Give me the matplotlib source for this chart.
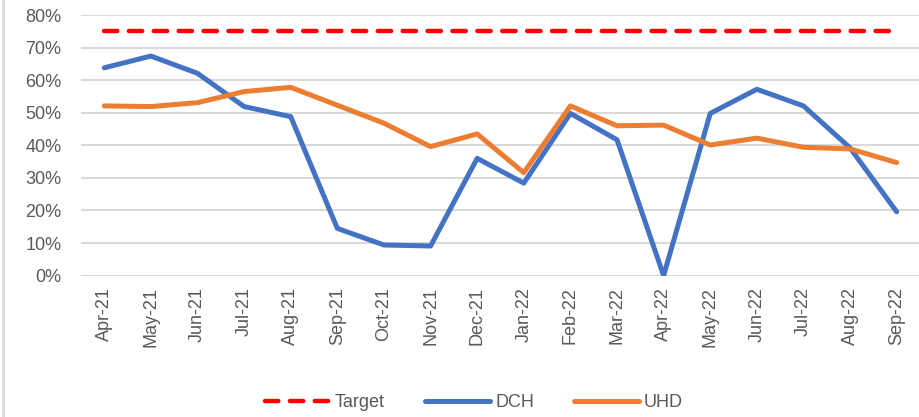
import numpy as np
import matplotlib
matplotlib.use("Agg")
import matplotlib.pyplot as plt
from matplotlib.lines import Line2D
from matplotlib.ticker import PercentFormatter

# Monthly values (percent)
months = ["Apr-21", "May-21", "Jun-21", "Jul-21", "Aug-21", "Sep-21",
          "Oct-21", "Nov-21", "Dec-21", "Jan-22", "Feb-22", "Mar-22",
          "Apr-22", "May-22", "Jun-22", "Jul-22", "Aug-22", "Sep-22"]
target = [75] * len(months)
dch = [63.8, 67.4, 62.1, 51.9, 48.8, 14.5, 9.4, 9.1, 36.0, 28.4,
       49.8, 41.7, 0.0, 49.8, 57.2, 52.1, 39.2, 19.6]
uhd = [52.1, 51.9, 53.1, 56.5, 57.8, 52.3, 46.8, 39.6, 43.5, 31.6,
       52.1, 46.0, 46.2, 40.1, 42.2, 39.4, 38.9, 34.7]

plt.rcParams['font.family'] = ['Liberation Sans', 'DejaVu Sans']

fig = plt.figure(figsize=(9.2, 4.17), dpi=100)
ax = fig.add_axes([0.088, 0.339, 0.912, 0.625])

x = np.arange(len(months))
ax.plot(x, target, color="#ff0000", lw=3.2, dashes=(3.0, 2.6),
        dash_capstyle="round", label="Target", zorder=3)
ax.plot(x, dch, color="#4472c4", lw=3.6, solid_joinstyle="round",
        solid_capstyle="round", label="DCH", zorder=4)
ax.plot(x, uhd, color="#ed7d31", lw=3.6, solid_joinstyle="round",
        solid_capstyle="round", label="UHD", zorder=4)

ax.set_xlim(-0.5, len(months) - 0.5)
ax.set_ylim(0, 80)
ax.set_yticks(np.arange(0, 81, 10))
ax.yaxis.set_major_formatter(PercentFormatter(decimals=0))
ax.set_xticks(x)
ax.set_xticklabels(months, rotation=90)
ax.tick_params(axis="both", length=0, labelsize=13, colors="#595959")
ax.tick_params(axis="y", pad=14)
ax.tick_params(axis="x", pad=8)
ax.grid(axis="y", color="#d9d9d9", lw=1.5)
ax.set_axisbelow(True)
for s in ax.spines.values():
    s.set_visible(False)

fig.legend(loc="center", bbox_to_anchor=(0.515, 0.034), ncol=3, frameon=False,
           fontsize=13, handlelength=3.6, columnspacing=2.2, handletextpad=0.3,
           labelcolor="#595959")

# faint chart border on the left edge
fig.add_artist(Line2D([0.003, 0.003], [0, 1], transform=fig.transFigure,
                      color="#d9d9d9", lw=2))

fig.savefig("out.png", dpi=100)
